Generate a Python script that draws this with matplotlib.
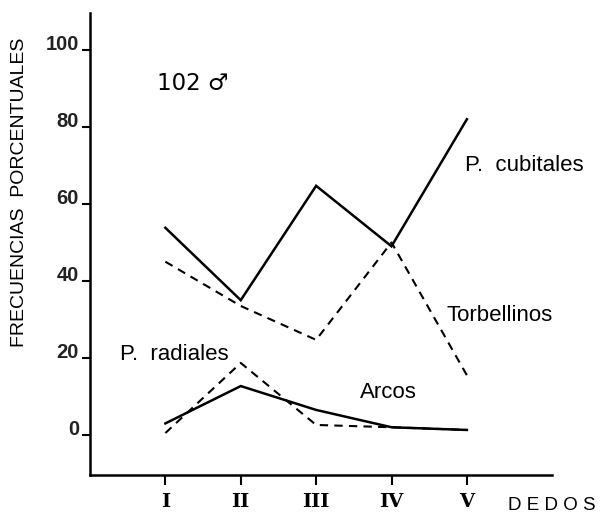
import matplotlib
matplotlib.use("Agg")
import matplotlib.pyplot as plt

# --- data ---
dedos = [1, 2, 3, 4, 5]
dedos_labels = ["I", "II", "III", "IV", "V"]
p_cubitales = [53.8, 35.0, 64.7, 49.0, 82.0]
torbellinos = [45.0, 33.5, 24.7, 50.0, 15.5]
p_radiales = [0.5, 18.7, 2.6, 2.0, 1.3]
arcos = [3.0, 12.7, 6.5, 2.0, 1.3]
y_ticks = [0, 20, 40, 60, 80, 100]

plt.rcParams['font.family'] = ['Liberation Sans', 'DejaVu Sans']

fig = plt.figure(figsize=(6.06, 5.18), dpi=100)
ax = fig.add_axes([0.1485, 0.083, 0.762, 0.892])

solid = dict(color='black', linewidth=1.8, solid_joinstyle='miter')
dashed = dict(color='black', linewidth=1.5, linestyle=(0, (4.0, 3.0)))

ax.plot(dedos, p_cubitales, **solid)
ax.plot(dedos, torbellinos, **dashed)
ax.plot(dedos, p_radiales, **dashed)
ax.plot(dedos, arcos, **solid)

ax.set_xlim(0, 6.126)
ax.set_ylim(-10.4, 109.6)

for s in ['top', 'right']:
    ax.spines[s].set_visible(False)
for s in ['left', 'bottom']:
    ax.spines[s].set_linewidth(1.8)

ax.set_xticks(dedos)
ax.set_xticklabels(dedos_labels, family=['DejaVu Serif'], fontsize=14,
                   fontweight='bold')
ax.set_yticks(y_ticks)
ax.set_yticklabels([str(v) for v in y_ticks], fontsize=14.5, fontweight='bold',
                   color='#222222')
for lab in ax.get_yticklabels():
    lab.set_va('baseline')
ax.tick_params(axis='x', direction='out', length=7, width=1.5, pad=6)
ax.tick_params(axis='y', direction='out', length=6, width=1.5, pad=2)

# annotations
ax.text(0.89, 91.2, "102 \u2642", fontsize=16.5, va='center', ha='left',
        family=['DejaVu Sans'])
ax.text(4.97, 70, "P.  cubitales", fontsize=16, va='center', ha='left')
ax.text(4.73, 31, "Torbellinos", fontsize=16, va='center', ha='left')
ax.text(0.40, 21.0, "P.  radiales", fontsize=16, va='center', ha='left')
ax.text(3.58, 10.9, "Arcos", fontsize=16, va='center', ha='left')
ax.text(5.54, -18.2, "D E D O S", fontsize=13.5, va='center', ha='left',
        clip_on=False)

fig.text(20 / 606, 1 - 192 / 518, "FRECUENCIAS  PORCENTUALES", rotation=90,
         fontsize=14, va='center', ha='center')

fig.savefig("out.png", dpi=100, facecolor='white')
